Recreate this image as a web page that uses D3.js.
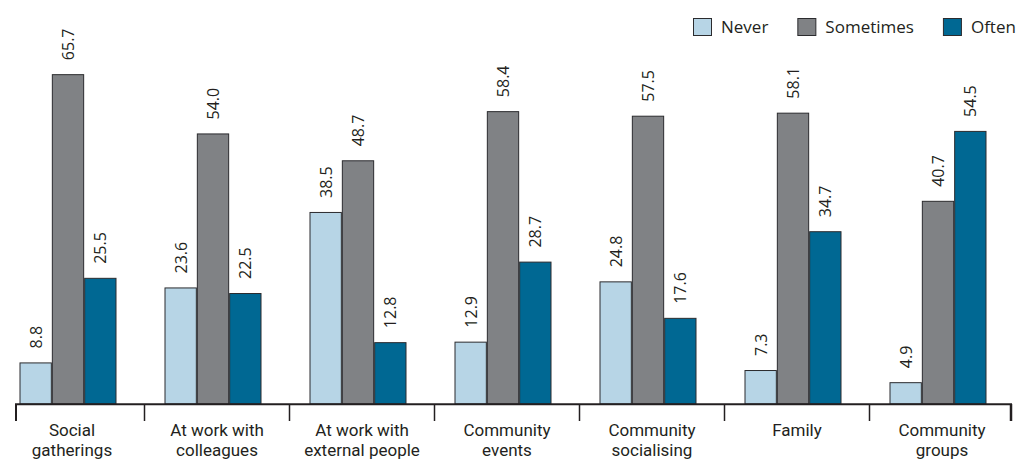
<!DOCTYPE html>
<html>
<head>
<meta charset="utf-8">
<script src="https://cdn.jsdelivr.net/npm/d3@7"></script>
<style>
  html, body { margin: 0; padding: 0; background: #fff; }
  svg { display: block; }
  text { font-family: "Open Sans", "Noto Sans", sans-serif; fill: #231f20; }
  text.cat { font-family: Roboto, "Open Sans", sans-serif; }
</style>
</head>
<body>
<svg id="chart" width="1018" height="460"></svg>
<script>
const categories = [
  ["Social", "gatherings"],
  ["At work with", "colleagues"],
  ["At work with", "external people"],
  ["Community", "events"],
  ["Community", "socialising"],
  ["Family"],
  ["Community", "groups"]
];
const seriesNames = ["Never", "Sometimes", "Often"];
const seriesColors = ["#b7d5e6", "#808285", "#006893"];
const never     = [8.8, 23.6, 38.5, 12.9, 24.8, 7.3, 4.9];
const sometimes = [65.7, 54.0, 48.7, 58.4, 57.5, 58.1, 40.7];
const often     = [25.5, 22.5, 12.8, 28.7, 17.6, 34.7, 54.5];
const seriesValues = [never, sometimes, often];

const svg = d3.select("#chart");
const catKeys = categories.map(c => c.join(" "));

const axisY = 404;
const x0 = d3.scaleBand().domain(catKeys).range([-0.5, 1014.5]).padding(0);
const step = x0.step();
const groupW = 97;
const groupOffset = -4;
const x1 = d3.scaleBand().domain(seriesNames)
  .range([step / 2 + groupOffset - groupW / 2, step / 2 + groupOffset + groupW / 2]).padding(0);
const y = d3.scaleLinear().domain([0, 70]).range([407, 407 - 70 * 5.066]);

const data = [];
catKeys.forEach((c, i) => {
  seriesNames.forEach((s, j) => {
    data.push({cat: c, series: s, value: seriesValues[j][i], color: seriesColors[j]});
  });
});

// bars
svg.append("g").selectAll("rect").data(data).join("rect")
  .attr("x", d => x0(d.cat) + x1(d.series) + 0.5)
  .attr("y", d => y(d.value) + 0.5)
  .attr("width", x1.bandwidth() - 1)
  .attr("height", d => axisY - y(d.value) - 0.5)
  .attr("fill", d => d.color)
  .attr("stroke", "#2b2b2e")
  .attr("stroke-width", 1);

// value labels
svg.append("g").selectAll("text").data(data).join("text")
  .attr("transform", d => `translate(${x0(d.cat) + x1(d.series) + x1.bandwidth() / 2},${y(d.value) - 14}) rotate(-90)`)
  .attr("text-anchor", "start")
  .attr("dominant-baseline", "central")
  .style("font-size", "16px")
  .text(d => d.value.toFixed(1));

// axis
const axisG = svg.append("g");
axisG.append("line")
  .attr("x1", 15).attr("x2", 1012)
  .attr("y1", axisY + 0.3).attr("y2", axisY + 0.3)
  .attr("stroke", "#231f20").attr("stroke-width", 2);
axisG.append("line")
  .attr("x1", 16).attr("x2", 16).attr("y1", axisY).attr("y2", 421)
  .attr("stroke", "#231f20").attr("stroke-width", 2);
axisG.append("line")
  .attr("x1", 1011).attr("x2", 1011).attr("y1", axisY).attr("y2", 421)
  .attr("stroke", "#231f20").attr("stroke-width", 2.5);
axisG.selectAll("line.tick").data(catKeys.slice(1)).join("line")
  .attr("class", "tick")
  .attr("x1", d => x0(d)).attr("x2", d => x0(d))
  .attr("y1", axisY).attr("y2", 421)
  .attr("stroke", "#231f20").attr("stroke-width", 1.5);

// category labels
const labG = svg.append("g");
categories.forEach((lines, i) => {
  lines.forEach((ln, k) => {
    labG.append("text")
      .attr("class", "cat")
      .attr("x", x0(catKeys[i]) + step / 2)
      .attr("y", 436 + k * 20)
      .attr("text-anchor", "middle")
      .style("font-size", "17px")
      .text(ln);
  });
});

// legend
const leg = svg.append("g");
let lx = 693;
seriesNames.forEach((s, j) => {
  leg.append("rect")
    .attr("x", lx + 0.5).attr("y", 18.5).attr("width", 18).attr("height", 17)
    .attr("fill", seriesColors[j]).attr("stroke", "#2b2b2e").attr("stroke-width", 1);
  const t = leg.append("text")
    .attr("x", lx + 28).attr("y", 33)
    .style("font-size", "17px")
    .text(s);
  lx = lx + 28 + t.node().getComputedTextLength() + 29;
});
</script>
</body>
</html>
